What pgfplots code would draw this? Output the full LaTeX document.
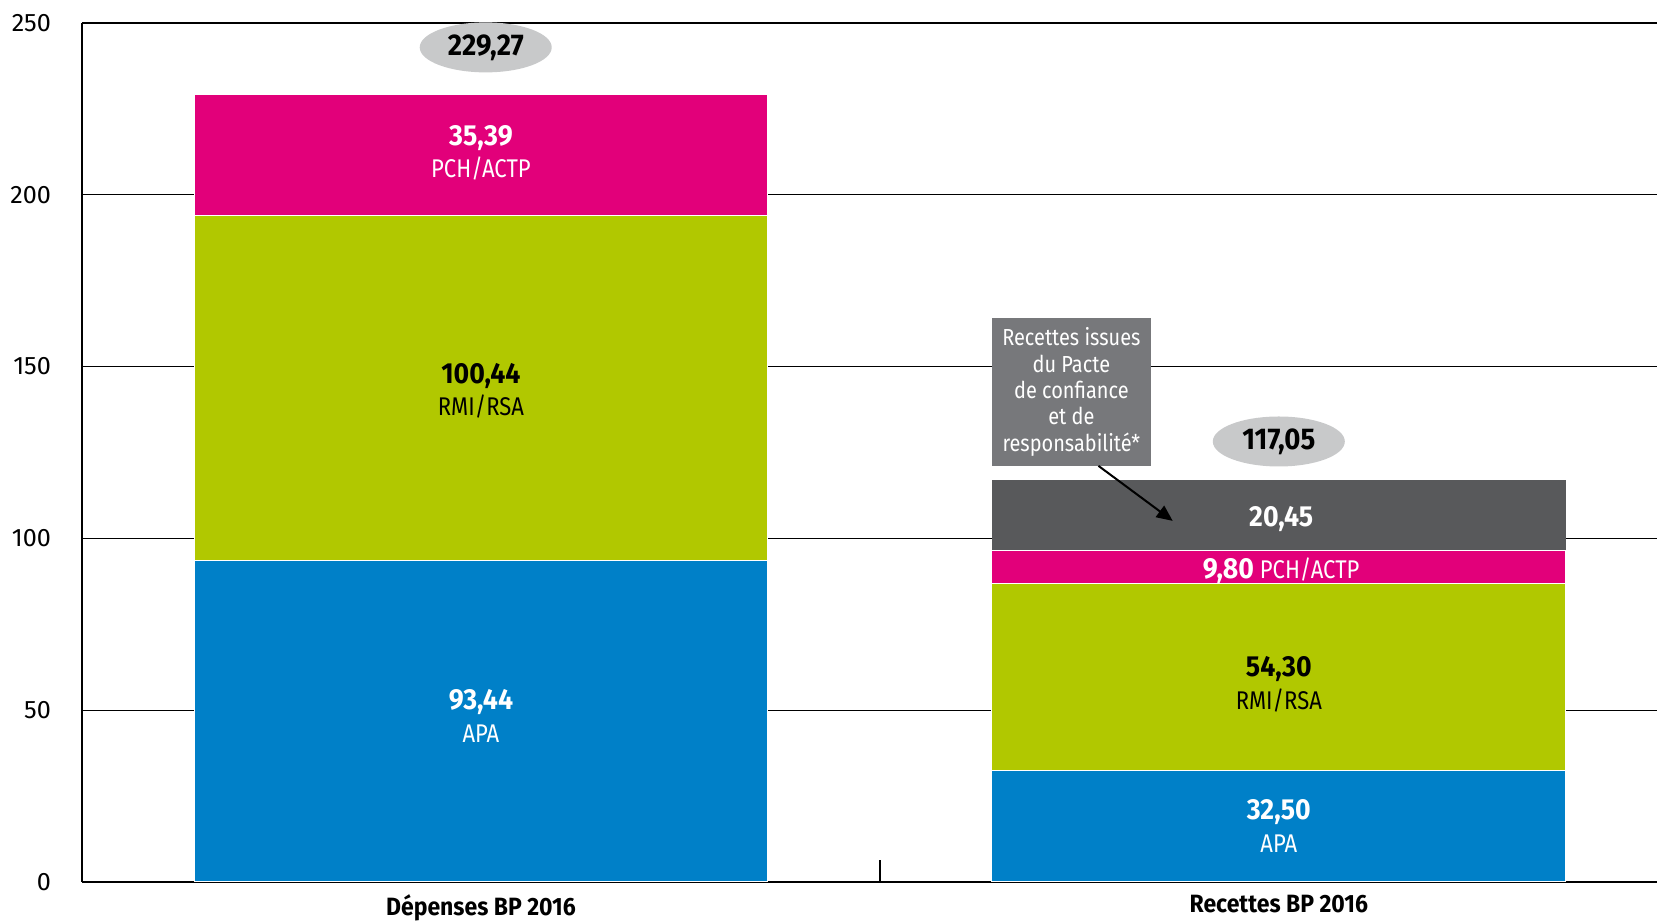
\documentclass[border=0pt]{standalone}
\usepackage{fontspec}
\setmainfont{Fira Sans}[FakeStretch=0.86, BoldFeatures={FakeStretch=0.92}]
\newfontfamily\tickfont{Fira Sans}
\usepackage{pgfplots}
\pgfplotsset{compat=1.18}
\usetikzlibrary{shapes.geometric,arrows.meta}

\definecolor{apa}{RGB}{0,128,200}
\definecolor{rmi}{RGB}{177,200,0}
\definecolor{pch}{RGB}{226,0,122}
\definecolor{pacte}{RGB}{88,89,91}
\definecolor{annogrey}{RGB}{119,120,123}
\definecolor{ellgrey}{RGB}{200,201,202}

\tikzset{
  seg/.style={align=center, font=\fontsize{12.8}{16.3}\selectfont},
  val/.style={font=\fontsize{14.5}{16.3}\selectfont\bfseries},
  tot/.style={ellipse, fill=ellgrey, minimum width=66pt, minimum height=25pt,
    inner sep=0pt, font=\fontsize{15}{17}\selectfont\bfseries},
}
\newcommand{\vb}[1]{{\fontsize{14.5}{16.3}\selectfont\bfseries #1}}

\begin{document}
\begin{tikzpicture}
\begin{axis}[
  scale only axis,
  width=787.5pt, height=429.5pt,
  xmin=-0.5, xmax=1.474,
  ymin=0, ymax=250,
  ybar stacked,
  bar width=0.719,
  axis lines=left,
  axis line style={-, line width=0.8pt},
  ytick={0,50,...,250},
  ymajorgrids,
  grid style={black, line width=0.6pt},
  major tick length=0pt,
  xtick={0,1},
  xticklabels={Dépenses BP 2016, Recettes BP 2016},
  xticklabel style={font=\fontsize{12.5}{15}\selectfont\bfseries, yshift=-3pt},
  yticklabel style={font=\fontsize{12.6}{15}\tickfont, xshift=-12pt},
  extra x ticks={0.5},
  extra x tick labels={},
  extra x tick style={major tick length=11pt, tick align=inside,
    tick style={black, line width=0.8pt}},
  /pgf/number format/assume math mode=true,
  clip=false,
]
  \addplot+[fill=apa, draw=white, line width=0.5pt] coordinates {(0,93.44) (1,32.50)};
  \addplot+[fill=rmi, draw=white, line width=0.5pt] coordinates {(0,100.44) (1,54.30)};
  \addplot+[fill=pch, draw=white, line width=0.5pt] coordinates {(0,35.39) (1,9.80)};
  \addplot+[fill=pacte, draw=none] coordinates {(0,0) (1,20.45)};

  \coordinate (l1) at (axis cs:0,48.3);
  \coordinate (l2) at (axis cs:0,143);
  \coordinate (l3) at (axis cs:0,212.2);
  \coordinate (r1) at (axis cs:1,16.3);
  \coordinate (r2) at (axis cs:1,57.5);
  \coordinate (r3) at (axis cs:1.003,90.7);
  \coordinate (r4) at (axis cs:1.003,105.5);
  \coordinate (t1) at (axis cs:0.006,242.9);
  \coordinate (t2) at (axis cs:1.0,128.2);
  \coordinate (box) at (axis cs:0.740,142.6);
  \coordinate (a0) at (axis cs:0.774,121.1);
  \coordinate (a1) at (axis cs:0.867,105.1);
\end{axis}

\node[seg, text=white] at (l1) {\vb{93,44}\\APA};
\node[seg, text=black] at (l2) {\vb{100,44}\\RMI/RSA};
\node[seg, text=white] at (l3) {\vb{35,39}\\PCH/ACTP};
\node[seg, text=white] at (r1) {\vb{32,50}\\APA};
\node[seg, text=black] at (r2) {\vb{54,30}\\RMI/RSA};
\node[seg, text=white] at (r3) {\vb{9,80} PCH/ACTP};
\node[val, text=white] at (r4) {20,45};
\node[tot] at (t1) {229,27};
\node[tot] at (t2) {117,05};
\node[fill=annogrey, text=white, align=center, minimum width=79.5pt, minimum height=74pt,
  inner sep=2pt, font=\fontsize{11.6}{13.2}\selectfont] at (box)
  {Recettes issues\\du Pacte\\de confiance\\et de\\responsabilité*};
\draw[-{Triangle[length=8pt,width=7pt]}, line width=1pt] (a0) -- (a1);

\pgfresetboundingbox
\path ([xshift=-41pt,yshift=-20.5pt]current axis.south west)
  rectangle ([yshift=11.5pt]current axis.north east);
\end{tikzpicture}
\end{document}
